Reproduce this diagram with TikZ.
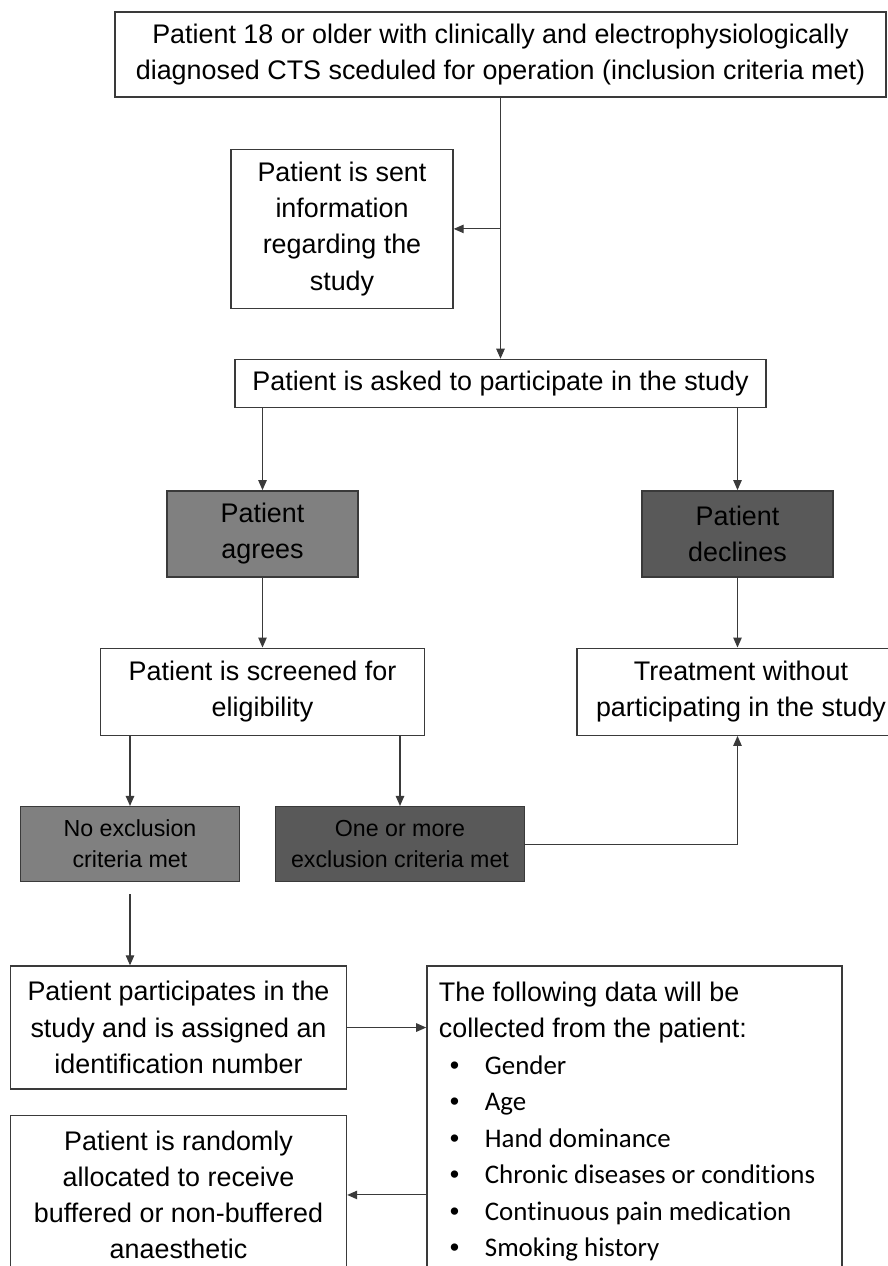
\documentclass[tikz,border=0pt]{standalone}
\usepackage{fontspec}
\setmainfont{Liberation Sans}
\newfontfamily\listfont[Ligatures=NoCommon]{Carlito}
\usetikzlibrary{positioning, arrows.meta}
\definecolor{agreegray}{HTML}{808080}
\definecolor{declinegray}{HTML}{595959}
\definecolor{edgegray}{HTML}{3A3A3A}

\begin{document}
\begin{tikzpicture}[font=\fontsize{15.3}{20.6}\selectfont,
    box/.style={draw=edgegray, line width=0.8pt, fill=white, align=center, inner sep=2pt},
    smalltext/.style={font=\fontsize{13.2}{17.6}\selectfont},
    arr/.style={draw=edgegray, line width=0.6pt, -{Triangle[length=0.2cm, width=0.17cm]}}]
            \useasboundingbox (0,0) rectangle (17.74,-25.32);
            % Inclusion
            \node[box, minimum width=15.42cm, minimum height=1.70cm] (inclusion) at (10.01,-1.09) {Patient 18 or older with clinically and electrophysiologically \\ diagnosed CTS sceduled for operation (inclusion criteria met)};
            % Information
            \node[box, minimum width=4.44cm, minimum height=3.18cm, below=1.02cm of inclusion, xshift=-3.17cm] (info) {Patient is sent \\ information \\ regarding the \\ study};
            % Asked
            \node[box, minimum width=10.62cm, minimum height=0.96cm, below=5.22cm of inclusion] (ask) {Patient is asked to participate in the study};
            % Agrees / declines
            \node[box, fill=agreegray, minimum width=3.82cm, minimum height=1.72cm, below=1.64cm of ask, xshift=-4.76cm] (agrees) {Patient \\ agrees};
            \node[box, fill=declinegray, minimum width=3.82cm, minimum height=1.72cm, below=1.64cm of ask, xshift=4.74cm] (declines) {Patient \\ declines};
            % Screening
            \node[box, minimum width=6.48cm, minimum height=1.74cm, below=1.40cm of agrees] (screened) {Patient is screened for \\ eligibility};
            % Treatment
            \node[box, minimum width=6.56cm, minimum height=1.74cm, below=1.40cm of declines, xshift=0.07cm] (treatment) {Treatment without \\ participating in the study};
            % Exclusion
            \node[box, smalltext, fill=agreegray, minimum width=4.38cm, minimum height=1.50cm, below=1.40cm of screened, xshift=-2.65cm] (noexcl) {No exclusion \\ criteria met};
            \node[box, smalltext, fill=declinegray, minimum width=4.98cm, minimum height=1.50cm, below=1.40cm of screened, xshift=2.75cm] (excl) {One or more \\ exclusion criteria met};
            % Participates
            \node[box, minimum width=6.72cm, minimum height=2.46cm, below=1.66cm of noexcl, xshift=0.97cm] (participates) {Patient participates in the \\ study and is assigned an \\ identification number};
            % Randomisation
            \node[box, minimum width=6.72cm, minimum height=3.18cm, below=0.50cm of participates] (random) {Patient is randomly \\ allocated to receive \\ buffered or non-buffered \\ anaesthetic};
            % Data
            \node[box, align=left, inner xsep=0.24cm, inner ysep=0.32cm, right=1.58cm of participates.north east, anchor=north west] (datalist) {\parbox[t]{7.82cm}{\fontsize{15.3}{20.75}\selectfont
                The following data will be \\
                collected from the patient: \\
                \hspace*{0.22cm}\makebox[0.7cm][l]{•}{\listfont Gender} \\
                \hspace*{0.22cm}\makebox[0.7cm][l]{•}{\listfont Age} \\
                \hspace*{0.22cm}\makebox[0.7cm][l]{•}{\listfont Hand dominance} \\
                \hspace*{0.22cm}\makebox[0.7cm][l]{•}{\listfont Chronic diseases or conditions} \\
                \hspace*{0.22cm}\makebox[0.7cm][l]{•}{\listfont Continuous pain medication} \\
                \hspace*{0.22cm}\makebox[0.7cm][l]{•}{\listfont Smoking history}\par\vspace{1cm}}};

            \draw[arr] (inclusion) -- (ask);
            \draw[arr] (inclusion.south |- info.east) -- (info.east);
            \draw[arr] (agrees.north |- ask.south) -- (agrees);
            \draw[arr] (declines.north |- ask.south) -- (declines);
            \draw[arr] (agrees) -- (screened);
            \draw[arr] (declines.south) -- (declines.south |- treatment.north);
            \draw[arr] (noexcl.north |- screened.south) -- (noexcl);
            \draw[arr] (excl.north |- screened.south) -- (excl);
            \draw[arr] (excl.east) -| (declines.south |- treatment.south);
            \draw[arr, shorten <=0.24cm] (noexcl.south) -- (noexcl.south |- participates.north);
            \draw[arr] (participates) -- (participates.east -| datalist.west);
            \draw[arr] (datalist.west |- random.east) -- (random);
        \end{tikzpicture}
\end{document}
